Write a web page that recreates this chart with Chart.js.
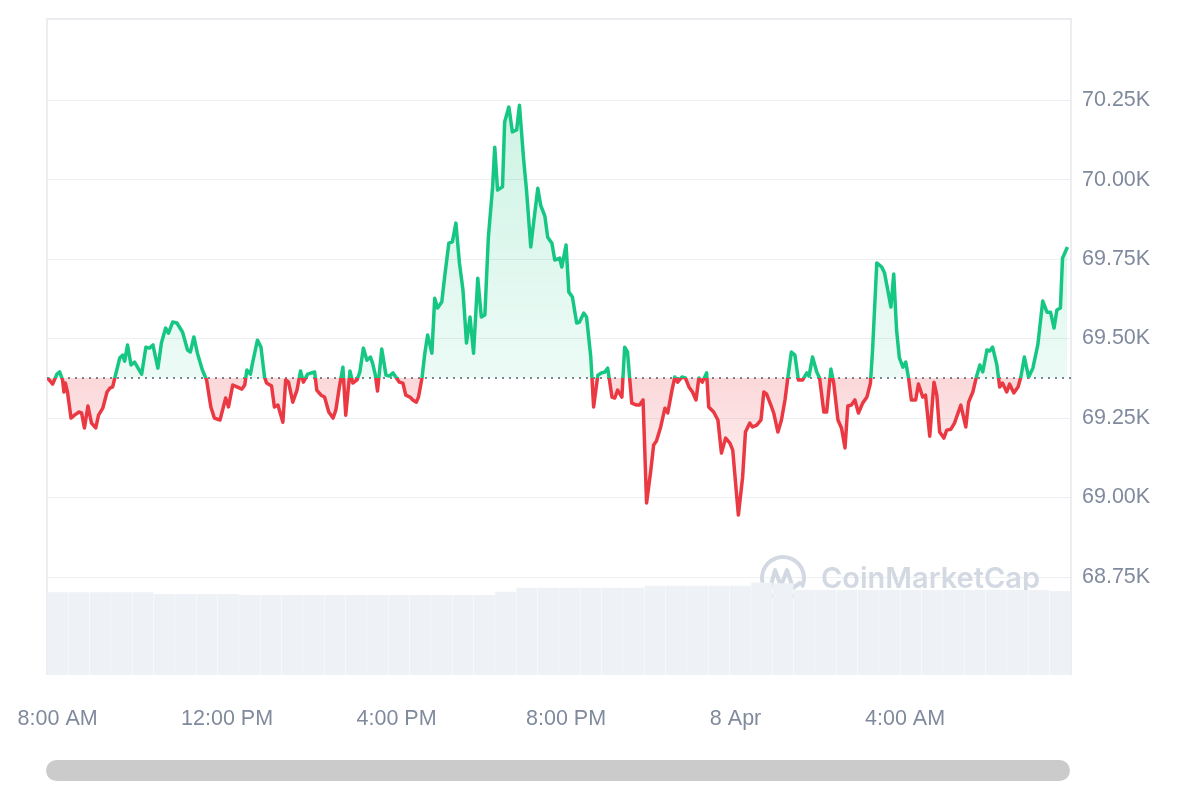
<!DOCTYPE html>
<html lang="en">
<head>
<meta charset="UTF-8">
<title>BTC price chart</title>
<script src="https://cdn.jsdelivr.net/npm/chart.js"></script>
<style>
  body { margin: 0; background: #fff; }
  #wrap { position: relative; width: 1200px; height: 800px; }
  #scroll {
    position: absolute; left: 46px; top: 760px; width: 1024px; height: 21px;
    border-radius: 11px; background: #cbcbcb;
  }
</style>
</head>
<body>
<div id="wrap">
  <canvas id="chart" width="1200" height="800"></canvas>
  <div id="scroll"></div>
</div>
<script>
// minutes since 7 Apr 00:00
const times = [
  466, 473, 479, 483, 487, 489, 491, 494, 499, 504, 510, 514, 518, 523, 528, 534, 538, 544, 550, 554,
  558, 561, 568, 572, 575, 579, 584, 589, 599, 605, 610, 615, 622, 627, 633, 637, 643, 649, 657, 664,
  668, 673, 678, 685, 691, 697, 702, 710, 718, 722, 728, 734, 741, 745, 748, 753, 756, 763, 768, 773,
  776, 783, 787, 792, 794, 799, 803, 807, 813, 819, 824, 828, 834, 844, 847, 853, 858, 864, 870, 874,
  879, 884, 888, 894, 898, 904, 908, 913, 918, 923, 926, 930, 933, 939, 945, 950, 955, 964, 969, 973,
  979, 983, 988, 991, 996, 1000, 1004, 1010, 1014, 1018, 1024, 1028, 1034, 1039, 1044, 1049, 1054, 1059, 1064, 1069,
  1075, 1080, 1085, 1090, 1096, 1099, 1103, 1110, 1113, 1119, 1124, 1130, 1134, 1140, 1144, 1150, 1154, 1160, 1164, 1170,
  1174, 1180, 1184, 1191, 1194, 1200, 1204, 1209, 1215, 1219, 1225, 1229, 1235, 1239, 1245, 1250, 1255, 1259, 1265, 1269,
  1273, 1279, 1283, 1287, 1293, 1300, 1304, 1309, 1314, 1320, 1324, 1328, 1334, 1340, 1344, 1350, 1354, 1358, 1364, 1369,
  1374, 1379, 1384, 1388, 1393, 1399, 1402, 1409, 1415, 1420, 1426, 1432, 1436, 1444, 1450, 1454, 1460, 1464, 1470, 1476,
  1480, 1484, 1490, 1494, 1500, 1505, 1510, 1514, 1519, 1524, 1529, 1535, 1541, 1544, 1549, 1555, 1559, 1565, 1569, 1575,
  1579, 1585, 1590, 1595, 1599, 1604, 1609, 1614, 1620, 1626, 1631, 1634, 1640, 1647, 1651, 1655, 1660, 1664, 1668, 1672,
  1677, 1681, 1685, 1689, 1695, 1699, 1705, 1709, 1715, 1721, 1725, 1729, 1735, 1739, 1745, 1750, 1759, 1766, 1770, 1776,
  1781, 1786, 1790, 1796, 1800, 1804, 1810, 1814, 1818, 1824, 1828, 1834, 1840, 1844, 1849, 1855, 1861, 1868, 1875, 1881,
  1886, 1891, 1895, 1900, 1903, 1910
];
const prices = [
  69376, 69357, 69388, 69395, 69370, 69332, 69360, 69332, 69250, 69259, 69269, 69266, 69219, 69288, 69234, 69219, 69259, 69281, 69332, 69344,
  69348, 69376, 69439, 69448, 69429, 69480, 69417, 69426, 69388, 69473, 69470, 69480, 69407, 69486, 69533, 69517, 69552, 69549, 69520, 69464,
  69458, 69505, 69454, 69401, 69370, 69285, 69250, 69244, 69313, 69285, 69354, 69348, 69341, 69354, 69401, 69388, 69423, 69495, 69473, 69379,
  69360, 69351, 69285, 69291, 69275, 69237, 69370, 69363, 69300, 69338, 69398, 69363, 69388, 69395, 69338, 69322, 69316, 69269, 69250, 69275,
  69348, 69410, 69259, 69398, 69360, 69370, 69395, 69470, 69432, 69442, 69423, 69385, 69335, 69467, 69385, 69382, 69392, 69363, 69360, 69322,
  69316, 69307, 69300, 69316, 69376, 69454, 69511, 69454, 69627, 69596, 69615, 69693, 69800, 69804, 69863, 69738, 69653, 69486, 69568, 69454,
  69690, 69568, 69574, 69819, 69977, 70102, 69967, 69977, 70181, 70228, 70150, 70156, 70234, 70061, 69967, 69788, 69863, 69973, 69920, 69885,
  69819, 69800, 69747, 69753, 69725, 69794, 69646, 69631, 69549, 69552, 69580, 69568, 69442, 69285, 69385, 69392, 69395, 69407, 69316, 69313,
  69338, 69316, 69473, 69458, 69297, 69291, 69291, 69307, 68983, 69086, 69165, 69178, 69222, 69281, 69266, 69338, 69379, 69363, 69379, 69376,
  69348, 69332, 69307, 69376, 69363, 69392, 69285, 69269, 69244, 69140, 69187, 69171, 69149, 68945, 69064, 69206, 69234, 69222, 69228, 69244,
  69332, 69325, 69291, 69266, 69206, 69244, 69307, 69376, 69458, 69448, 69370, 69370, 69392, 69382, 69442, 69395, 69376, 69269, 69269, 69404,
  69360, 69244, 69219, 69156, 69288, 69291, 69307, 69266, 69297, 69316, 69360, 69464, 69738, 69725, 69706, 69659, 69599, 69703, 69527, 69439,
  69410, 69426, 69376, 69307, 69307, 69357, 69316, 69322, 69193, 69363, 69322, 69206, 69187, 69212, 69215, 69234, 69291, 69222, 69300, 69332,
  69379, 69417, 69395, 69464, 69461, 69473, 69417, 69348, 69360, 69332, 69357, 69329, 69348, 69379, 69442, 69379, 69407, 69480, 69618, 69583,
  69583, 69533, 69590, 69596, 69753, 69788
];
// 24h volume (billion USD), one value per 30 minutes
const volume = [
  12.6, 12.6, 12.6, 12.6, 12.6,
  12.35, 12.35, 12.35, 12.35,
  12.2, 12.2, 12.2, 12.2, 12.2, 12.2, 12.2, 12.2, 12.2, 12.2, 12.2, 12.2,
  12.7,
  13.3, 13.3, 13.3, 13.3, 13.3, 13.3,
  13.6, 13.6, 13.6, 13.6, 13.6,
  14.1, 14.0,
  12.95, 12.95, 12.95, 12.95, 12.95, 12.95, 12.95, 12.95, 12.95, 12.95, 12.95, 12.95,
  12.8
];
const tickTimes = [480, 720, 960, 1200, 1440, 1680];
const tickLabels = ['8:00 AM', '12:00 PM', '4:00 PM', '8:00 PM', '8 Apr', '4:00 AM'];
const priceTicks = [68750, 69000, 69250, 69500, 69750, 70000, 70250];

const BASE = prices[0];
const GREEN = '#16c784';
const RED = '#ea3943';
const FONT = "'Liberation Sans', Arial, sans-serif";

// frame, baseline dots and watermark
const decor = {
  id: 'decor',
  beforeDatasetsDraw(chart) {
    const { ctx, chartArea: a, scales } = chart;
    ctx.save();
    ctx.strokeStyle = '#ebedf0';
    ctx.lineWidth = 2;
    ctx.beginPath();
    ctx.moveTo(a.left, a.bottom);
    ctx.lineTo(a.left, a.top);
    ctx.lineTo(a.right, a.top);
    ctx.lineTo(a.right, a.bottom);
    ctx.stroke();

    // watermark
    ctx.strokeStyle = '#d3d9e2';
    ctx.fillStyle = '#d3d9e2';
    ctx.lineWidth = 4;
    ctx.lineCap = 'round';
    ctx.lineJoin = 'round';
    ctx.beginPath();
    ctx.arc(783, 578, 21, 0.25 * Math.PI, 2.12 * Math.PI);
    ctx.stroke();
    ctx.beginPath();
    ctx.moveTo(770, 589);
    ctx.lineTo(775, 570);
    ctx.lineTo(781, 586);
    ctx.lineTo(787, 570);
    ctx.lineTo(793, 588);
    ctx.lineTo(800, 583);
    ctx.stroke();
    ctx.font = "600 29px Inter, " + FONT;
    ctx.textBaseline = 'middle';
    ctx.fillText('CoinMarketCap', 821, 579, 220);

    // baseline
    const yb = scales.y.getPixelForValue(BASE);
    ctx.strokeStyle = 'rgba(110,118,132,0.9)';
    ctx.lineWidth = 2;
    ctx.lineCap = 'butt';
    ctx.setLineDash([2, 5]);
    ctx.beginPath();
    ctx.moveTo(a.left, yb);
    ctx.lineTo(a.right, yb);
    ctx.stroke();
    ctx.restore();
  }
};

const chart = new Chart(document.getElementById('chart'), {
  type: 'line',
  data: {
    datasets: [{
      type: 'line',
      data: times.map((t, i) => ({ x: t, y: prices[i] })),
      xAxisID: 'x',
      yAxisID: 'y',
      borderColor: GREEN,
      borderWidth: 3.5,
      borderJoinStyle: 'round',
      pointRadius: 0,
      tension: 0,
      fill: { target: { value: BASE }, above: 'rgba(22,199,132,0.12)', below: 'rgba(234,57,67,0.12)' },
      order: 1
    }, {
      type: 'bar',
      data: volume,
      xAxisID: 'xv',
      yAxisID: 'yv',
      backgroundColor: '#eef1f5',
      grouped: false,
      barPercentage: 0.98,
      categoryPercentage: 1,
      order: 2
    }]
  },
  options: {
    responsive: false,
    animation: false,
    devicePixelRatio: 1,
    layout: { padding: { left: 47, top: 19, right: 0, bottom: 0 } },
    plugins: { legend: { display: false }, tooltip: { enabled: false } },
    scales: {
      x: {
        type: 'linear',
        min: 465,
        max: 1915,
        grid: { display: false, drawTicks: false },
        border: { display: false },
        afterBuildTicks: s => { s.ticks = tickTimes.map(v => ({ value: v })); },
        afterFit: s => { s.height = 125; s.paddingLeft = 0; s.paddingRight = 0; },
        ticks: {
          autoSkip: false,
          maxRotation: 0,
          padding: 31,
          color: '#808a9d',
          font: { family: FONT, size: 21.5 },
          callback: v => tickLabels[tickTimes.indexOf(v)]
        }
      },
      y: {
        position: 'right',
        min: 68442,
        max: 70505,
        grid: { color: '#edeff2', lineWidth: 1, drawTicks: false },
        border: { display: false },
        afterBuildTicks: s => { s.ticks = priceTicks.map(v => ({ value: v })); },
        afterFit: s => { s.width = 129; s.paddingTop = 0; s.paddingBottom = 0; },
        ticks: {
          padding: 11,
          color: '#808a9d',
          font: { family: FONT, size: 21.5 },
          callback: v => (v / 1000).toFixed(2) + 'K'
        }
      },
      xv: {
        type: 'category',
        labels: volume.map((v, i) => String(i)),
        display: false
      },
      yv: {
        min: 0,
        max: 100,
        display: false
      }
    }
  },
  plugins: [decor]
});

// gradients need the drawn chart area
(function () {
  const { ctx, chartArea: a, scales } = chart;
  const yb = scales.y.getPixelForValue(BASE);
  const t = (yb - a.top) / (a.bottom - a.top);
  const line = ctx.createLinearGradient(0, a.top, 0, a.bottom);
  line.addColorStop(0, GREEN);
  line.addColorStop(t, GREEN);
  line.addColorStop(t, RED);
  line.addColorStop(1, RED);
  const up = ctx.createLinearGradient(0, scales.y.getPixelForValue(70250), 0, yb);
  up.addColorStop(0, 'rgba(22,199,132,0.21)');
  up.addColorStop(1, 'rgba(22,199,132,0.08)');
  const down = ctx.createLinearGradient(0, yb, 0, scales.y.getPixelForValue(68950));
  down.addColorStop(0, 'rgba(234,57,67,0.2)');
  down.addColorStop(1, 'rgba(234,57,67,0.03)');
  const ds = chart.data.datasets[0];
  ds.borderColor = line;
  ds.fill = { target: { value: BASE }, above: up, below: down };
  chart.update('none');
})();
</script>
</body>
</html>
